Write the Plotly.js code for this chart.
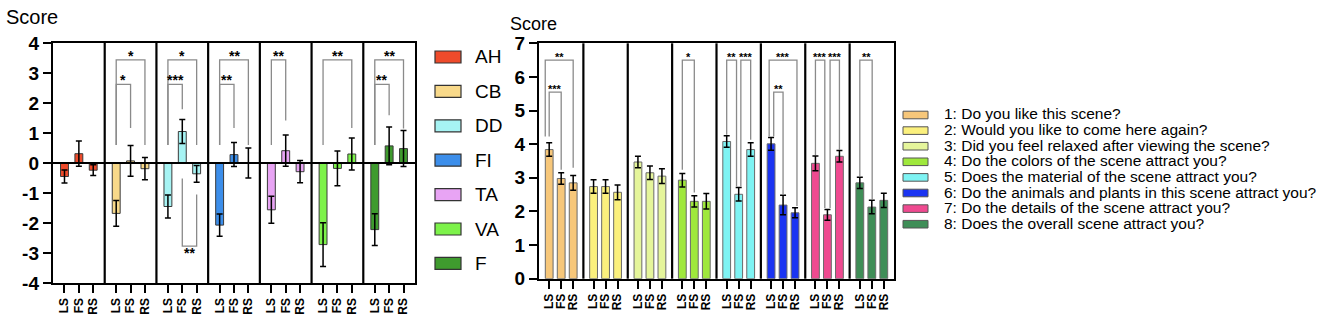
<!DOCTYPE html>
<html>
<head>
<meta charset="utf-8">
<script src="https://cdn.plot.ly/plotly-3.0.1.min.js"></script>
<style>html,body{margin:0;padding:0;background:#fff;}#chart{width:1325px;height:319px;}</style>
</head>
<body>
<div id="chart"></div>
<script>
// ---------- DATA ----------
const conditions = ['LS', 'FS', 'RS'];

// Left chart (difference scores)
const leftGroups = ['AH', 'CB', 'DD', 'FI', 'TA', 'VA', 'F'];
const leftColors = ['#EE4B2B', '#F8D98A', '#A6F3F3', '#3C8EEA', '#E8A4F4', '#7DF24A', '#3F9B2E'];
const leftMeans = [
  [-0.45, 0.31, -0.24],
  [-1.68, 0.07, -0.19],
  [-1.45, 1.05, -0.36],
  [-2.07, 0.28, 0.00],
  [-1.56, 0.41, -0.29],
  [-2.72, -0.18, 0.30],
  [-2.22, 0.57, 0.48]
];
const leftErrors = [
  [0.22, 0.42, 0.18],
  [0.43, 0.51, 0.37],
  [0.38, 0.40, 0.28],
  [0.37, 0.40, 0.50],
  [0.45, 0.52, 0.37],
  [0.73, 0.58, 0.53],
  [0.53, 0.63, 0.60]
];
const leftYTicks = [-4, -3, -2, -1, 0, 1, 2, 3, 4];
// significance: [panel, from, to, bracket level, leg end at 'from', leg end at 'to', label]
const leftSig = [
  [1, 0, 2, 3.44, 0.6, 0.6, '*'],
  [1, 0, 1, 2.62, 0.6, 1.17, '*'],
  [2, 0, 2, 3.44, 0.6, 0.6, '*'],
  [2, 0, 1, 2.62, 0.6, 1.79, '***'],
  [2, 1, 2, -2.77, -0.52, -1.05, '**'],
  [3, 0, 2, 3.44, 0.6, 0.6, '**'],
  [3, 0, 1, 2.62, 0.6, 1.17, '**'],
  [4, 0, 1, 3.44, 0.6, 1.42, '**'],
  [5, 0, 2, 3.44, 0.6, 1.17, '**'],
  [6, 0, 2, 3.44, 0.6, 1.15, '**'],
  [6, 0, 1, 2.62, 0.6, 1.59, '**']
];

// Right chart (questionnaire scores)
const rightQuestions = [
  '1: Do you like this scene?',
  '2: Would you like to come here again?',
  '3: Did you feel relaxed after viewing the scene?',
  '4: Do the colors of the scene attract you?',
  '5: Does the material of the scene attract you?',
  '6: Do the animals and plants in this scene attract you?',
  '7: Do the details of the scene attract you?',
  '8: Does the overall scene attract you?'
];
const rightColors = ['#F7C77A', '#FBF07D', '#E5F59B', '#9FE83C', '#7EF3F3', '#1B34F2', '#EF4A90', '#3F8E57'];
const rightMeans = [
  [3.84, 2.98, 2.85],
  [2.74, 2.74, 2.57],
  [3.47, 3.15, 3.05],
  [2.93, 2.30, 2.30],
  [4.08, 2.51, 3.84],
  [4.01, 2.19, 1.96],
  [3.43, 1.90, 3.64],
  [2.85, 2.13, 2.33]
];
const rightErrors = [
  [0.20, 0.17, 0.22],
  [0.20, 0.20, 0.22],
  [0.17, 0.20, 0.22],
  [0.20, 0.17, 0.23],
  [0.17, 0.20, 0.20],
  [0.19, 0.29, 0.15],
  [0.22, 0.16, 0.17],
  [0.17, 0.20, 0.21]
];
const rightYTicks = [0, 1, 2, 3, 4, 5, 6, 7];
const rightSig = [
  [0, -0.33, 2, 6.5, 4.23, 3.3, '**'],
  [0, 0, 1, 5.55, 4.23, 3.24, '***'],
  [3, 0, 1, 6.5, 3.24, 2.56, '*'],
  [4, 0, 0.82, 6.5, 4.28, 2.74, '**'],
  [4, 1.18, 2, 6.5, 2.74, 4.13, '***'],
  [5, -0.16, 2.16, 6.5, 4.23, 2.16, '***'],
  [5, 0.22, 1, 5.55, 4.23, 2.5, '**'],
  [6, 0, 0.78, 6.5, 3.68, 2.1, '***'],
  [6, 1.22, 2, 6.5, 2.1, 3.83, '***'],
  [7, 0, 1.03, 6.5, 3.05, 2.36, '**']
];

// ---------- LAYOUT HELPERS ----------
const W = 1325, H = 319;
const FONT = 'Liberation Sans, Arial, Helvetica, sans-serif';
const px = x => x / W;
const py = y => 1 - y / H;

const L = {x0: 53, x1: 415, y0: 43, y1: 283, pw: 3.6, bw: 0.55, xa: 'x', ya: 'y'};
const R = {x0: 539, x1: 894, y0: 43.3, y1: 278.7, pw: 3.7, bw: 0.65, xa: 'x2', ya: 'y2'};

function pos(cfg, panel, j) {
  return panel * cfg.pw + (cfg.pw / 2 - 1) + j;
}

const traces = [];
const shapes = [];
const annotations = [];

function addBars(cfg, names, colors, means, errs, lineColor) {
  names.forEach((name, g) => {
    traces.push({
      type: 'bar',
      name: name,
      x: conditions.map((c, j) => pos(cfg, g, j)),
      y: means[g],
      width: conditions.map(() => cfg.bw),
      xaxis: cfg.xa, yaxis: cfg.ya,
      marker: {color: colors[g], line: {color: lineColor, width: 1}},
      error_y: {type: 'data', array: errs[g], visible: true, color: '#000', thickness: 1.5, width: 3},
      showlegend: false,
      hoverinfo: 'x+y'
    });
  });
  // panel separators
  for (let p = 1; p < names.length; p++) {
    shapes.push({type: 'line', xref: cfg.xa, yref: cfg.ya + ' domain', x0: p * cfg.pw, x1: p * cfg.pw, y0: 0, y1: 1,
      line: {color: '#000', width: 2.2}, layer: 'above'});
  }
}

function addSig(cfg, sig, fontSize) {
  sig.forEach(([p, a, b, lvl, la, lb, txt]) => {
    const xa = pos(cfg, p, a), xb = pos(cfg, p, b);
    shapes.push({type: 'path', xref: cfg.xa, yref: cfg.ya,
      path: `M ${xa},${la} L ${xa},${lvl} L ${xb},${lvl} L ${xb},${lb}`,
      line: {color: '#8a8a8a', width: 1.3}, layer: 'above'});
    const below = lvl < Math.min(la, lb);
    annotations.push({xref: cfg.xa, yref: cfg.ya, x: (xa + xb) / 2, y: lvl, text: txt, showarrow: false,
      xanchor: 'center', yanchor: below ? 'top' : 'bottom', yshift: below ? 3 : -Math.round(fontSize * 0.45),
      font: {family: FONT, size: fontSize, color: '#000', weight: 'bold'}});
  });
}

addBars(L, leftGroups, leftColors, leftMeans, leftErrors, '#3a3a3a');
addBars(R, rightQuestions, rightColors, rightMeans, rightErrors, '#6a6a6a');
addSig(L, leftSig, 14);
addSig(R, rightSig, 11);

// zero line on left chart
shapes.push({type: 'line', xref: 'x domain', yref: 'y', x0: 0, x1: 1, y0: 0, y1: 0, line: {color: '#000', width: 2.2}, layer: 'above'});

// left legend
leftGroups.forEach((name, i) => {
  const c = 57 + i * 34.4;
  shapes.push({type: 'rect', xref: 'paper', yref: 'paper', x0: px(435), x1: px(461), y0: py(c - 6), y1: py(c + 6),
    fillcolor: leftColors[i], line: {color: '#333', width: 1.2}});
  annotations.push({xref: 'paper', yref: 'paper', x: px(473), y: py(c), text: name, showarrow: false,
    xanchor: 'left', yanchor: 'middle', font: {family: FONT, size: 19, color: '#000'}});
});

// right legend
rightQuestions.forEach((q, i) => {
  const c = 115 + i * 15.6;
  shapes.push({type: 'rect', xref: 'paper', yref: 'paper', x0: px(903), x1: px(928), y0: py(c - 3.8), y1: py(c + 3.8),
    fillcolor: rightColors[i], line: {color: '#555', width: 1}});
  annotations.push({xref: 'paper', yref: 'paper', x: px(942), y: py(c - 1), text: q, showarrow: false,
    xanchor: 'left', yanchor: 'middle', font: {family: FONT, size: 15.5, color: '#000'}});
});

// "Score" titles
annotations.push({xref: 'paper', yref: 'paper', x: px(4), y: py(17), text: 'Score', showarrow: false,
  xanchor: 'left', yanchor: 'middle', font: {family: FONT, size: 20, color: '#000'}});
annotations.push({xref: 'paper', yref: 'paper', x: px(508), y: py(24), text: 'Score', showarrow: false,
  xanchor: 'left', yanchor: 'middle', font: {family: FONT, size: 18, color: '#000'}});

function xAxis(cfg, n) {
  const tv = [], tt = [];
  for (let g = 0; g < n; g++) conditions.forEach((c, j) => { tv.push(pos(cfg, g, j)); tt.push(c); });
  return {
    domain: [px(cfg.x0), px(cfg.x1)], range: [0, n * cfg.pw], anchor: cfg.ya,
    tickmode: 'array', tickvals: tv, ticktext: tt, tickangle: -90,
    ticks: 'outside', ticklen: 8, tickwidth: 2, tickcolor: '#000',
    showline: true, linecolor: '#000', linewidth: 2.2, mirror: true,
    showgrid: false, zeroline: false, fixedrange: true, automargin: false,
    tickfont: {family: FONT, size: 12, color: '#000', weight: 'bold'}
  };
}
function yAxis(cfg, ticks) {
  return {
    domain: [py(cfg.y1), py(cfg.y0)], range: [ticks[0], ticks[ticks.length - 1]], anchor: cfg.xa,
    tickmode: 'array', tickvals: ticks, ticktext: ticks.map(String),
    ticks: 'outside', ticklen: 8, tickwidth: 2, tickcolor: '#000',
    showline: true, linecolor: '#000', linewidth: 2.2, mirror: true,
    showgrid: false, zeroline: false, fixedrange: true, automargin: false,
    tickfont: {family: FONT, size: 19, color: '#000', weight: 'bold'}
  };
}

const layout = {
  width: W, height: H,
  margin: {l: 0, r: 0, t: 0, b: 0},
  paper_bgcolor: '#fff', plot_bgcolor: '#fff',
  barmode: 'overlay',
  showlegend: false,
  xaxis: xAxis(L, leftGroups.length),
  yaxis: yAxis(L, leftYTicks),
  xaxis2: xAxis(R, rightQuestions.length),
  yaxis2: yAxis(R, rightYTicks),
  shapes: shapes,
  annotations: annotations,
  font: {family: FONT}
};

Plotly.newPlot('chart', traces, layout, {staticPlot: true, displayModeBar: false});
</script>
</body>
</html>
